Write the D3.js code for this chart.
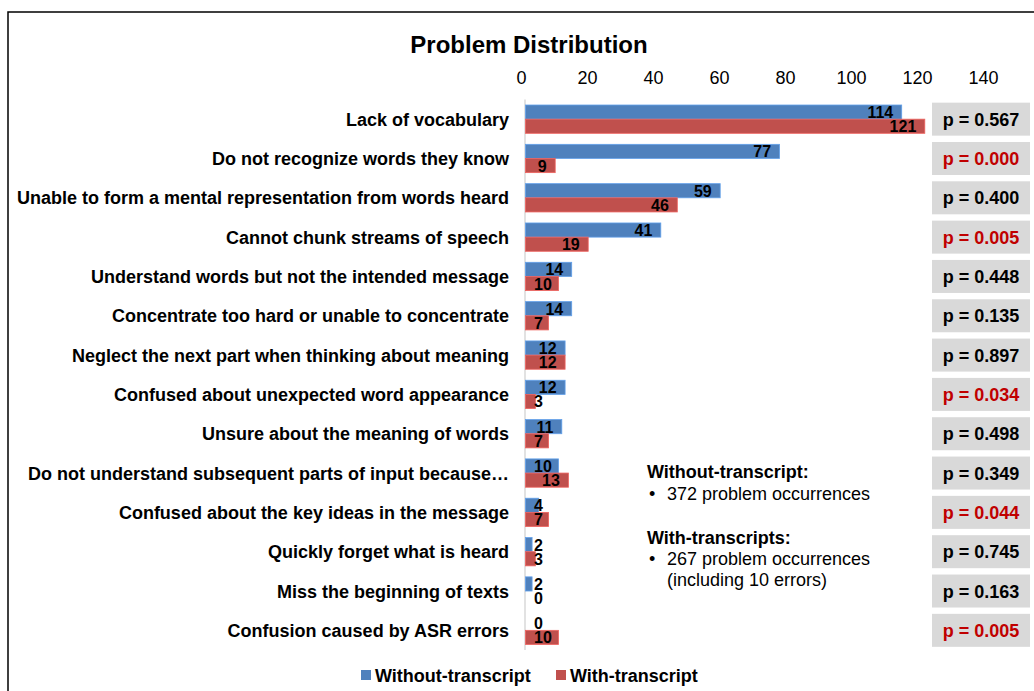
<!DOCTYPE html>
<html>
<head>
<meta charset="utf-8">
<script src="https://cdn.jsdelivr.net/npm/d3@7"></script>
<style>
  html, body { margin: 0; padding: 0; background: #fff; }
  svg { display: block; font-family: "Liberation Sans", Arial, sans-serif; }
</style>
</head>
<body>
<svg id="chart" width="1034" height="691"></svg>
<script>
// Problem categories, top to bottom
const categories = [
  "Lack of vocabulary",
  "Do not recognize words they know",
  "Unable to form a mental representation from words heard",
  "Cannot chunk streams of speech",
  "Understand words but not the intended message",
  "Concentrate too hard or unable to concentrate",
  "Neglect the next part when thinking about meaning",
  "Confused about unexpected word appearance",
  "Unsure about the meaning of words",
  "Do not understand subsequent parts of input because\u2026",
  "Confused about the key ideas in the message",
  "Quickly forget what is heard",
  "Miss the beginning of texts",
  "Confusion caused by ASR errors"
];
const withoutTranscript = [114, 77, 59, 41, 14, 14, 12, 12, 11, 10, 4, 2, 2, 0];
const withTranscript    = [121, 9, 46, 19, 10, 7, 12, 3, 7, 13, 7, 3, 0, 10];
const pValues = ["0.567", "0.000", "0.400", "0.005", "0.448", "0.135", "0.897",
                 "0.034", "0.498", "0.349", "0.044", "0.745", "0.163", "0.005"];
const significant = [false, true, false, true, false, false, false,
                     true, false, false, true, false, false, true];
const xTicks = [0, 20, 40, 60, 80, 100, 120, 140];
const seriesNames = ["Without-transcript", "With-transcript"];
const seriesColors = ["#4f81bd", "#c0504d"];

const svg = d3.select("#chart");

// Outer frame (only top and left edges fall inside the view)
svg.append("rect")
  .attr("x", 8).attr("y", 12).attr("width", 1040).attr("height", 700)
  .attr("fill", "none").attr("stroke", "#000").attr("stroke-width", 1.5);

// Title
svg.append("text")
  .attr("x", 529).attr("y", 53)
  .attr("text-anchor", "middle")
  .attr("font-size", 24).attr("font-weight", "bold")
  .text("Problem Distribution");

const x = d3.scaleLinear().domain([0, 140]).range([525, 987]);
const y = d3.scaleBand().domain(categories).range([99.5, 650]).paddingInner(0.28).paddingOuter(0.14);
const sub = d3.scaleBand().domain([0, 1]).range([0, y.bandwidth()]);

// Top axis: labels only
const axis = svg.append("g").attr("transform", "translate(-4,84)")
  .call(d3.axisTop(x).tickValues(xTicks).tickSize(0).tickPadding(0));
axis.select(".domain").remove();
axis.selectAll("text")
  .attr("font-size", 18).attr("font-family", "Liberation Sans, Arial, sans-serif")
  .attr("fill", "#000");

// Category axis line
svg.append("line")
  .attr("x1", x(0)).attr("x2", x(0))
  .attr("y1", 99.5).attr("y2", 650)
  .attr("stroke", "#d9d9d9").attr("stroke-width", 1.5);

// Category labels
svg.append("g").selectAll("text")
  .data(categories)
  .join("text")
  .attr("x", 509)
  .attr("y", d => y(d) + y.bandwidth() / 2 + 6.5)
  .attr("text-anchor", "end")
  .attr("font-size", 18).attr("font-weight", "bold")
  .text(d => d);

// Bars and value labels
const series = [withoutTranscript, withTranscript];
series.forEach((vals, si) => {
  const g = svg.append("g");
  g.selectAll("rect")
    .data(vals)
    .join("rect")
    .attr("x", x(0) + 0.5)
    .attr("y", (d, i) => y(categories[i]) + sub(si))
    .attr("width", d => Math.max(0, x(d) - x(0)))
    .attr("height", sub.bandwidth())
    .attr("fill", seriesColors[si])
    .attr("stroke", d => d > 0 ? d3.color(seriesColors[si]).brighter(0.6) : "none")
    .attr("stroke-width", 0.8);

  const labels = g.selectAll("text")
    .data(vals)
    .join("text")
    .attr("y", (d, i) => y(categories[i]) + sub(si) + sub.bandwidth() / 2 + 6)
    .attr("text-anchor", "end")
    .attr("font-size", 16).attr("font-weight", "bold")
    .text(d => d);
  labels.each(function(d) {
    const w = this.getComputedTextLength();
    const right = Math.max(x(d) - 8, x(0) + 9 + w);
    d3.select(this).attr("x", right);
  });
});

// p-value boxes
const pg = svg.append("g");
pg.selectAll("rect")
  .data(pValues)
  .join("rect")
  .attr("x", 932).attr("width", 98)
  .attr("y", (d, i) => y(categories[i]) + y.bandwidth() / 2 - 16.5)
  .attr("height", 33)
  .attr("fill", "#d9d9d9");
pg.selectAll("text")
  .data(pValues)
  .join("text")
  .attr("x", 981)
  .attr("y", (d, i) => y(categories[i]) + y.bandwidth() / 2 + 6.5)
  .attr("text-anchor", "middle")
  .attr("font-size", 18).attr("font-weight", "bold")
  .attr("fill", (d, i) => significant[i] ? "#c00000" : "#000")
  .text(d => "p = " + d);

// Totals note
const note = svg.append("g").attr("font-size", 18);
note.append("text").attr("x", 647).attr("y", 478).attr("font-weight", "bold").text("Without-transcript:");
note.append("text").attr("x", 649).attr("y", 500).text("\u2022");
note.append("text").attr("x", 667).attr("y", 500).text("372 problem occurrences");
note.append("text").attr("x", 647).attr("y", 544).attr("font-weight", "bold").text("With-transcripts:");
note.append("text").attr("x", 649).attr("y", 565).text("\u2022");
note.append("text").attr("x", 667).attr("y", 565).text("267 problem occurrences");
note.append("text").attr("x", 667).attr("y", 586).text("(including 10 errors)");

// Legend
const legendX = [361, 556];
const lg = svg.append("g");
seriesNames.forEach((name, i) => {
  lg.append("rect")
    .attr("x", legendX[i]).attr("y", 670).attr("width", 10).attr("height", 10)
    .attr("fill", seriesColors[i]);
  lg.append("text")
    .attr("x", legendX[i] + 14).attr("y", 681.5)
    .attr("font-size", 18).attr("font-weight", "bold")
    .text(name);
});
</script>
</body>
</html>
